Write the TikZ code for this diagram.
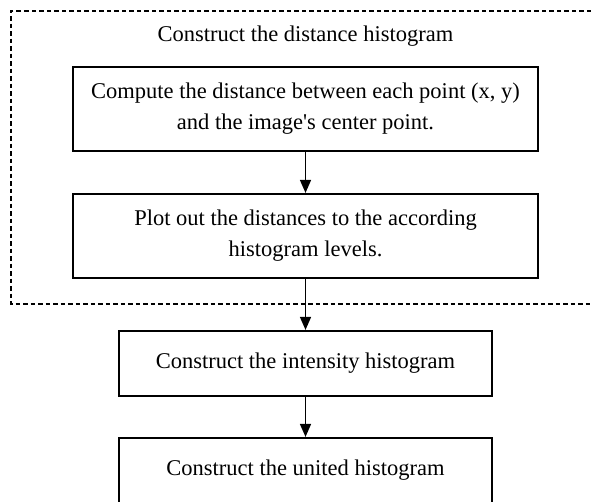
\documentclass[tikz,border=0pt]{standalone}
\usepackage{fontspec}
\setmainfont{Liberation Serif}
\usetikzlibrary{arrows.meta}
\begin{document}
\begin{tikzpicture}[x=1pt,y=1pt,
  txt/.style={font=\fontsize{22.5}{31}\selectfont},
  stepbox/.style={txt, draw, line width=2.2pt, minimum width=465pt, align=center, inner sep=0pt},
  smallbox/.style={txt, draw, line width=2.2pt, minimum width=373pt, align=center, inner sep=0pt},
  arr/.style={line width=1.5pt, -{Triangle[length=13pt,width=11pt]}},
  dashframe/.style={line width=2.2pt, dash pattern=on 4.5pt off 3pt}]
\useasboundingbox (0,0) rectangle (591,-501);
\clip (0,0) rectangle (591,-501);
\draw[dashframe] (591,-11) -- (11,-11) -- (11,-304) -- (591,-304);
\node[txt] (title) at (305.5,-36) {Construct the distance histogram};
\node[stepbox, minimum height=84pt] (b1) at (305.5,-109) {Compute the distance between each point (x, y)\\and the image\textquotesingle s center point.};
\node[stepbox, minimum height=84pt] (b2) at (305.5,-236) {Plot out the distances to the according\\histogram levels.};
\node[smallbox, minimum height=65pt] (b3) at (305.5,-363.5) {Construct the intensity histogram};
\node[smallbox, minimum height=65pt] (b4) at (305.5,-470.5) {Construct the united histogram};
\draw[arr] (b1) -- (b2);
\draw[arr] (b2) -- (b3);
\draw[arr] (b3) -- (b4);
\end{tikzpicture}
\end{document}
